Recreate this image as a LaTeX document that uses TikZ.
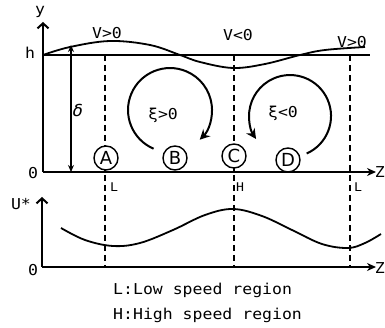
\documentclass[tikz,border=0pt]{standalone}
\usepackage{fontspec}
\usetikzlibrary{arrows.meta}
\newfontfamily\lab{DejaVu Sans Mono}[FakeStretch=1.1]
\newfontfamily\circfont{DejaVu Sans}
\begin{document}
\begin{tikzpicture}[x=1pt,y=-1pt,
  ax/.style={line width=2pt},
  crv/.style={line width=1.8pt},
  dsh/.style={line width=1.4pt, dash pattern=on 6pt off 4pt},
  lbl/.style={font=\lab\fontsize{15}{15}\selectfont, inner sep=0pt},
  axlbl/.style={font=\lab\fontsize{15}{15}\selectfont, inner sep=0pt},
  small/.style={font=\lab\fontsize{12}{12}\selectfont, inner sep=0pt},
  circ/.style={circle, draw, fill=white, line width=1.4pt, minimum size=24pt, inner sep=0pt, font=\circfont\fontsize{18}{18}\selectfont},
  barb/.style={-{Straight Barb[length=5pt,width=11pt]}},
  stl/.style={-{Stealth[length=9pt,width=8pt]}},
  vort/.style={line width=2pt, -{Stealth[length=10pt,width=10pt]}}
]
\useasboundingbox (0,0) rectangle (385,328);
% coordinates
\coordinate (O1) at (43,172);
\coordinate (Ytip) at (43,22);
\coordinate (Z1) at (376,172);
\coordinate (H0) at (43,55);
\coordinate (H1) at (370,55);
\coordinate (O2) at (42,267);
\coordinate (Utip) at (42,197);
\coordinate (Z2) at (376,267);
\coordinate (d1t) at (105,55);  \coordinate (d1b) at (105,267);
\coordinate (d2t) at (234,55);  \coordinate (d2b) at (234,267);
\coordinate (d3t) at (350,55);  \coordinate (d3b) at (350,267);
\coordinate (dt) at (71,45); \coordinate (db) at (71,172);
% dashed lines
\draw[dsh] (d1t) -- (d1b);
\draw[dsh] (d2t) -- (d2b);
\draw[dsh] (d3t) -- (d3b);
% top axes
\draw[ax, barb] (O1) -- (Ytip);
\draw[ax, stl] (O1) -- (Z1);
\draw[line width=1.6pt] (H0) -- (H1);
% wavy boundary
\draw[crv] plot[smooth, tension=0.6] coordinates {(43,55) (70,47) (110,41) (150,45) (180,55) (200,62) (233,68) (265,64) (300,55) (325,50) (365,47)};
% delta arrow
\draw[line width=1.4pt, {Stealth[length=7pt,width=6pt]}-{Stealth[length=7pt,width=6pt]}] (dt) -- (db);
% vortices
\coordinate (v1) at (153.6,148.7);
\draw[vort] (v1) arc[start angle=-247, end angle=45, radius=42];
\coordinate (v2) at (306.7,153.5);
\draw[vort] (v2) arc[start angle=66, end angle=-214, radius=41];
% circles
\node[circ] (A) at (106,158) {A};
\node[circ] (B) at (175,158) {B};
\node[circ] (C) at (234,156) {C};
\node[circ] (D) at (288,160) {D};
% labels top
\node[axlbl] (ylab) at (40,12) {y};
\node[axlbl] (hlab) at (30,53) {h};
\node[axlbl] (o1lab) at (33,173) {0};
\node[axlbl, anchor=east] (z1lab) at (385,172) {Z};
\node[lbl] (v1lab) at (107,33) {V>0};
\node[lbl] (v2lab) at (238,35) {V<0};
\node[lbl] (v3lab) at (352,42) {V>0};
\node[lbl] (x1lab) at (163,115) {ξ>0};
\node[lbl] (x2lab) at (283,113) {ξ<0};
\node[font=\lab\itshape\fontsize{16}{16}\selectfont, inner sep=0pt] (dlab) at (78,110) {δ};
\node[small] (L1) at (114,187) {L};
\node[small] (H1lab) at (240,187) {H};
\node[small] (L2) at (358,187) {L};
% bottom axes
\draw[ax, barb] (O2) -- (Utip);
\draw[ax, stl] (O2) -- (Z2);
\node[axlbl] (ulab) at (21,204) {U*};
\node[axlbl] (o2lab) at (33,270) {0};
\node[axlbl, anchor=east] (z2lab) at (385,268) {Z};
\draw[crv] plot[smooth, tension=0.6] coordinates {(61,228) (85,240) (113,246) (140,243) (173,230) (205,215) (233,209) (262,216) (292,230) (322,244) (348,248) (365,243) (381,234)};
% captions
\node[lbl, anchor=west] (cap1) at (113,290) {L:Low speed region};
\node[lbl, anchor=west] (cap2) at (113,315) {H:High speed region};
\end{tikzpicture}
\end{document}
